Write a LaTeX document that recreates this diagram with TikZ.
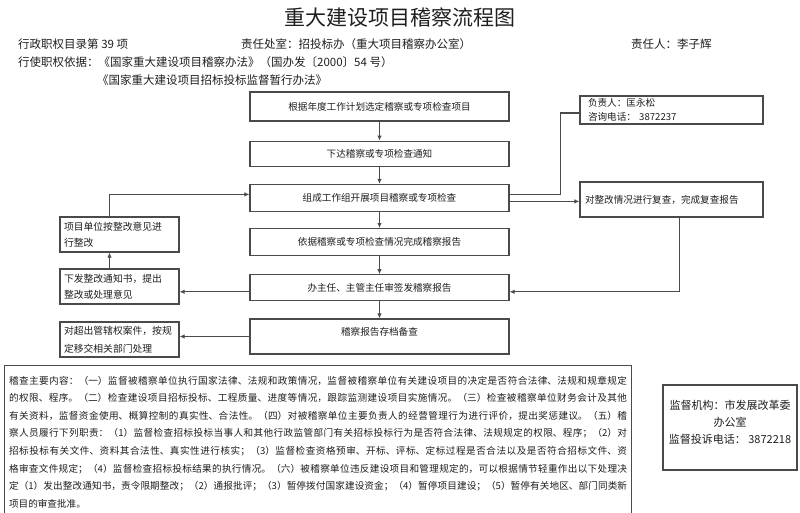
\documentclass[tikz,border=0pt]{standalone}
\usepackage{fontspec}
\setmainfont{Noto Sans CJK SC}
\XeTeXlinebreaklocale "zh"
\XeTeXlinebreakskip=0pt plus 1pt
\usetikzlibrary{arrows.meta,positioning}
\definecolor{auditgray}{HTML}{4A4A4A}
\definecolor{audittext}{HTML}{1E1E1E}

\begin{document}
\begin{tikzpicture}[
  x=1pt, y=-1pt,
  every node/.style={font=\fontsize{9.6}{14}\selectfont, text=audittext},
  box/.style={draw=auditgray, line width=1.2pt, minimum width=259pt,
              minimum height=26pt, inner sep=1pt, align=center},
  side/.style={draw=auditgray, line width=1.2pt, minimum height=35pt,
               inner xsep=4pt, inner ysep=1pt, text width=111pt, align=left,
               font=\fontsize{9.8}{16}\selectfont},
  note/.style={draw=auditgray, line width=1.2pt, inner ysep=1pt,
               text width=167pt, inner xsep=8pt, align=left},
  head/.style={anchor=west, inner sep=0pt, font=\fontsize{11.5}{14}\selectfont},
  arrow/.style={-{Latex[length=5pt,width=4.5pt]}, line width=1.2pt, draw=auditgray},
  link/.style={line width=1.2pt, draw=auditgray}
]
  \useasboundingbox (0,0) rectangle (800,512);
  \clip (0,0) rectangle (800,512);

  % heading
  \node[font=\fontsize{21}{24}\selectfont] (title) at (400,18) {重大建设项目稽察流程图};
  \node[head] (catalog) at (18,44) {行政职权目录第 39 项};
  \node[head] (office) at (241,44) {责任处室：招投标办（重大项目稽察办公室）};
  \node[head] (person) at (631,44) {责任人：李子辉};
  \node[head] (basis) at (18,62) {行使职权依据：《国家重大建设项目稽察办法》（国办发〔2000〕54 号）};
  \node[head] (basis2) at (97,80) {《国家重大建设项目招标投标监督暂行办法》};

  % main column
  \node[box, minimum height=29pt] (select) at (379.5,106.5) {根据年度工作计划选定稽察或专项检查项目};
  \node[box, below=19pt of select, minimum height=25pt] (notice) {下达稽察或专项检查通知};
  \node[box, below=17pt of notice, minimum height=27pt] (inspect) {组成工作组开展项目稽察或专项检查};
  \node[box, below=16pt of inspect, minimum height=27pt] (report) {依据稽察或专项检查情况完成稽察报告};
  \node[box, below=18pt of report] (sign) {办主任、主管主任审签发稽察报告};
  \node[box, below=17pt of sign, minimum height=35pt, text depth=10pt] (archive) {稽察报告存档备查};

  % side boxes
  \node[side] (rectify) at (119.5,234.5) {项目单位按整改意见进\\行整改};
  \node[side] (issue) at (119.5,286.5) {下发整改通知书，提出\\整改或处理意见};
  \node[side, font=\fontsize{9.8}{18}\selectfont] (transfer) at (119.5,339.5) {对超出管辖权案件，按规\\定移交相关部门处理};
  \node[note, minimum height=28pt] (contact) at (671.5,110) {负责人：匡永松\\咨询电话：\ 3872237};
  \node[note, minimum height=35pt, text width=173pt, inner xsep=5pt] (recheck) at (671.5,199.5) {对整改情况进行复查，完成复查报告};

  % notes at the bottom
  \node[draw=auditgray, line width=1.2pt, anchor=north west, text width=618pt,
        inner xsep=4.5pt, inner ysep=10.3pt, text depth=150pt, align=justify,
        font=\fontsize{9.6}{17.6}\selectfont] (scope) at (4,365) {\noindent
    稽查主要内容：（一）监督被稽察单位执行国家法律、法规和政策情况，监督被稽察单位有关建设项目的决定是否符合法律、法规和规章规定\linebreak
    的权限、程序。（二）检查建设项目招标投标、工程质量、进度等情况，跟踪监测建设项目实施情况。（三）检查被稽察单位财务会计及其他\linebreak
    有关资料，监督资金使用、概算控制的真实性、合法性。（四）对被稽察单位主要负责人的经营管理行为进行评价，提出奖惩建议。（五）稽\linebreak
    察人员履行下列职责：（1）监督检查招标投标当事人和其他行政监管部门有关招标投标行为是否符合法律、法规规定的权限、程序；（2）对\linebreak
    招标投标有关文件、资料其合法性、真实性进行核实；（3）监督检查资格预审、开标、评标、定标过程是否合法以及是否符合招标文件、资\linebreak
    格审查文件规定；（4）监督检查招标投标结果的执行情况。（六）被稽察单位违反建设项目和管理规定的，可以根据情节轻重作出以下处理决\linebreak
    定（1）发出整改通知书，责令限期整改；（2）通报批评；（3）暂停拨付国家建设资金；（4）暂停项目建设；（5）暂停有关地区、部门同类新\linebreak
    项目的审查批准。};
  \node[draw=auditgray, line width=1.2pt, minimum width=134pt, minimum height=85pt,
        align=center, font=\fontsize{11}{17}\selectfont] (supervise) at (730,427.5)
        {监督机构：市发展改革委\\办公室\\监督投诉电话：\ 3872218\\[-6pt]\mbox{}};

  % connectors
  \draw[arrow] (select) -- (notice);
  \draw[arrow] (notice) -- (inspect);
  \draw[arrow] (inspect) -- (report);
  \draw[arrow] (report) -- (sign);
  \draw[arrow] (sign) -- (archive);

  \coordinate (inspecthi) at ([yshift=3.5pt]inspect.east);
  \coordinate (inspectlo) at ([yshift=-3.5pt]inspect.east);
  \draw[link] (inspecthi) -- ++(51,0) |- ([yshift=-3pt]contact.west);
  \draw[arrow] (inspectlo) -- (inspectlo -| recheck.west);

  \coordinate (signin) at ([yshift=-4pt]sign.east);
  \draw[arrow] ([xshift=8pt]recheck.south) |- (signin);
  \coordinate (signout) at ([yshift=-4pt]sign.west);
  \draw[arrow] (signout) -- (signout -| issue.east);
  \draw[arrow] ([xshift=-10pt]issue.north) -- ([xshift=-10pt]rectify.south);
  \draw[arrow] ([xshift=-10pt]rectify.north) |- ([yshift=3.5pt]inspect.west);
  \draw[arrow] (archive.west) -- (archive.west -| transfer.east);
\end{tikzpicture}
\end{document}
